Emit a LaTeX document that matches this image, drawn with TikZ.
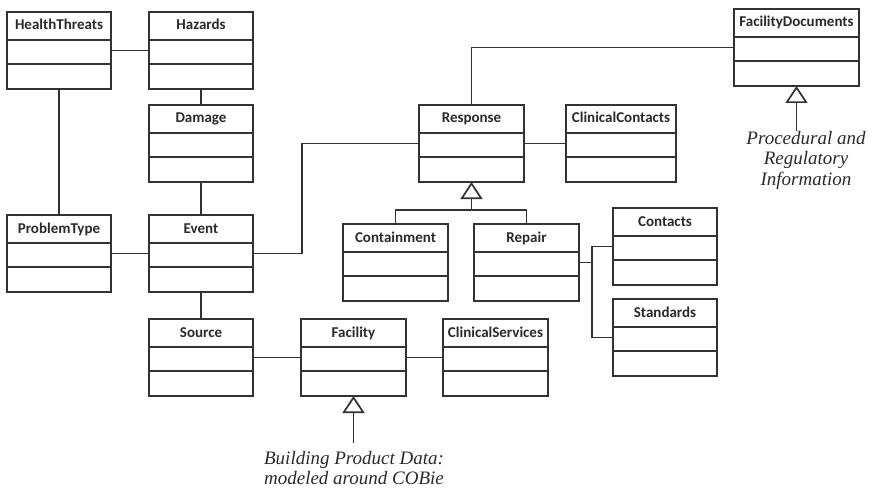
\documentclass[tikz,border=0pt]{standalone}
\usepackage{fontspec}
\setmainfont{Liberation Serif}
\newfontfamily\classfont{Carlito}
\usetikzlibrary{calc,arrows.meta}
\definecolor{ink}{HTML}{333333}
\definecolor{lettering}{HTML}{2A2A2A}
\tikzset{
  umlclass/.style={draw=ink, line width=1.7pt, rectangle, inner sep=0pt, outer sep=0pt,
    minimum height=77pt, anchor=north west, fill=white},
  compline/.style={draw=ink, line width=1.7pt},
  classname/.style={font=\classfont\bfseries\fontsize{15}{18}\selectfont, text=lettering,
    inner sep=0pt, anchor=base},
  assoc/.style={draw=ink, line width=1.7pt},
  generalize/.style={assoc, -{Triangle[open, length=17pt, width=22pt]}},
  note/.style={font=\itshape\fontsize{19}{20.5}\selectfont, text=lettering, align=center,
    inner sep=0pt, anchor=north}
}
% class box: name, left, top, width, title
\newcommand\umlbox[5]{%
  \node[umlclass, minimum width=#4pt] (#1) at (#2,#3) {};
  \draw[compline] ($(#1.north west)+(0,28)$) -- ($(#1.north east)+(0,28)$);
  \draw[compline] ($(#1.north west)+(0,52)$) -- ($(#1.north east)+(0,52)$);
  \node[classname] (#1-name) at ($(#1.north)+(0,18)$) {#5};
}
\begin{document}
\begin{tikzpicture}[x=1pt,y=-1pt]
\useasboundingbox (0,0) rectangle (872,489);
\fill[white] (0,0) rectangle (872,489);

% classes
\umlbox{HealthThreats}{7}{12}{104}{HealthThreats}
\umlbox{Hazards}{149}{12}{104}{Hazards}
\umlbox{Damage}{149}{105}{104}{Damage}
\umlbox{ProblemType}{7}{215}{104}{ProblemType}
\umlbox{Event}{149}{215}{104}{Event}
\umlbox{Source}{149}{319}{104}{Source}
\umlbox{Facility}{301}{319}{105}{Facility}
\umlbox{ClinicalServices}{443}{319}{105}{ClinicalServices}
\umlbox{Response}{419}{105}{105}{Response}
\umlbox{ClinicalContacts}{566}{105}{110}{ClinicalContacts}
\umlbox{Containment}{343}{224}{105}{Containment}
\umlbox{Repair}{474}{224}{105}{Repair}
\umlbox{Contacts}{613}{208}{104}{Contacts}
\umlbox{Standards}{613}{299}{104}{Standards}
\umlbox{FacilityDocuments}{734}{9}{125}{FacilityDocuments}

% notes
\node[note] (proc) at (806,131) {Procedural and\\Regulatory\\Information};
\node[note, inner ysep=8pt] (cobie) at (354,443) {Building Product Data:\\modeled around COBie};

% associations
\draw[assoc] (HealthThreats.east) -- (Hazards.west);
\draw[assoc] (Hazards.south) -- (Damage.north);
\draw[assoc] (HealthThreats.south) -- (ProblemType.north);
\draw[assoc] (ProblemType.east) -- (Event.west);
\draw[assoc] (Damage.south) -- (Event.north);
\draw[assoc] (Event.south) -- (Source.north);
\draw[assoc] (Source.east) -- (Facility.west);
\draw[assoc] (Facility.east) -- (ClinicalServices.west);
\draw[assoc] (Event.east) -- ++(49,0) |- (Response.west);
\draw[assoc] (Response.north) |- (FacilityDocuments.west);
\draw[assoc] (Response.east) -- (ClinicalContacts.west);

% Repair links to Contacts and Standards
\coordinate (rjoin) at (592,262);
\draw[assoc] (Repair.east) -- (Repair.east -| rjoin);
\draw[assoc] (Contacts.west) -- (Contacts.west -| rjoin) -- (Standards.west -| rjoin) -- (Standards.west);

% generalizations
\coordinate (genbar) at ($(Response.south)+(0,28)$);
\draw[generalize] (genbar) -- (Response.south);
\draw[assoc] (Containment.north) |- (genbar) -| (Repair.north);
\draw[generalize] (cobie.north -| Facility.south) -- (Facility.south);
\draw[generalize] (proc.north -| FacilityDocuments.south) -- (FacilityDocuments.south);
\end{tikzpicture}
\end{document}
